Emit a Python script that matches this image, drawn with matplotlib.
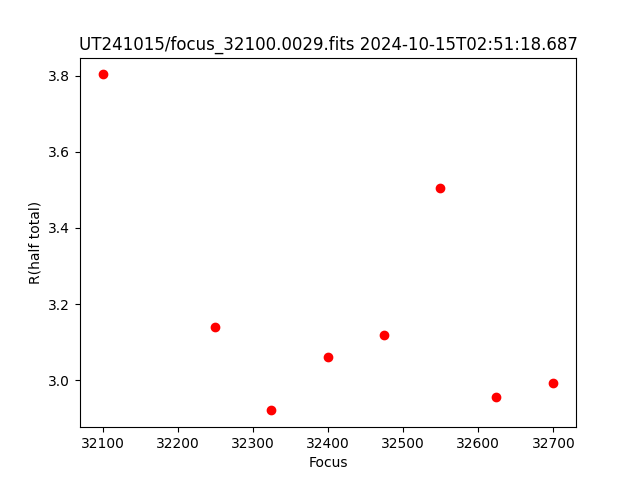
import matplotlib
matplotlib.use("Agg")
import matplotlib.pyplot as plt

focus = [32100, 32250, 32324, 32400, 32475, 32549, 32624, 32700]
r_half = [3.803, 3.139, 2.921, 3.060, 3.118, 3.504, 2.955, 2.992]

fig, ax = plt.subplots(figsize=(6.4, 4.8), dpi=100)
ax.plot(focus, r_half, 'ro')
ax.set_xlabel("Focus")
ax.set_ylabel("R(half total)")
ax.set_title("UT241015/focus_32100.0029.fits 2024-10-15T02:51:18.687")
fig.savefig("out.png")
